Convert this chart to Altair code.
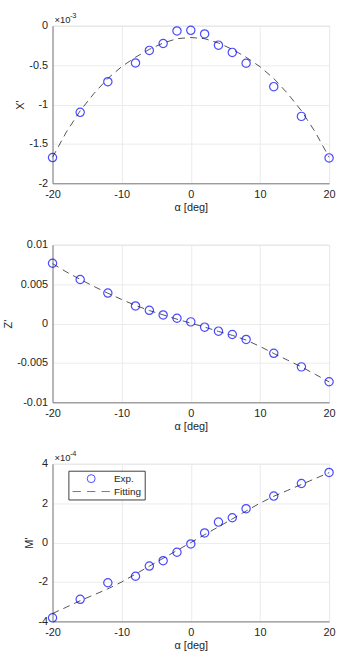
import altair as alt
import pandas as pd

# ---------------- data ----------------
alpha = [-20, -16, -12, -8, -6, -4, -2, 0, 2, 4, 6, 8, 12, 16, 20]
alpha_fit = [-20, -18, -16, -14, -12, -10, -8, -6, -4, -2, 0,
             2, 4, 6, 8, 10, 12, 14, 16, 18, 20]

# X' (x 1e-3)
x_exp = [-1.674, -1.10, -0.711, -0.473, -0.314, -0.226, -0.067, -0.059,
         -0.105, -0.247, -0.339, -0.477, -0.774, -1.151, -1.678]
x_fit = [-1.67, -1.35, -1.08, -0.86, -0.67, -0.52, -0.40, -0.30, -0.22, -0.165, -0.15,
         -0.165, -0.22, -0.30, -0.40, -0.52, -0.67, -0.86, -1.08, -1.35, -1.67]

# Z'
z_exp = [0.00765, 0.00559, 0.00387, 0.00223, 0.00168, 0.00109, 0.00067, 0.00021,
         -0.00046, -0.00097, -0.00139, -0.00202, -0.00378, -0.0055, -0.00739]
z_fit = [0.0076, 0.00655, 0.0056, 0.0047, 0.00385, 0.00305, 0.0023, 0.00165, 0.0011, 0.00055, 0.00005,
         -0.00045, -0.001, -0.0015, -0.0021, -0.0029, -0.0038, -0.00465, -0.0055, -0.00645, -0.0074]

# M' (x 1e-4)
m_exp = [-3.82, -2.88, -2.04, -1.71, -1.19, -0.92, -0.49, -0.07,
         0.49, 1.04, 1.26, 1.72, 2.36, 3.00, 3.56]
m_fit = [-3.6, -3.28, -2.95, -2.65, -2.35, -2.0, -1.6, -1.2, -0.8, -0.4, 0.0,
         0.4, 0.8, 1.2, 1.6, 2.0, 2.35, 2.65, 2.95, 3.25, 3.55]

x_ticks = [-20, -10, 0, 10, 20]
series_names = ["Exp.", "Fitting"]

FONT = "Liberation Sans"
TXT = "#262626"
BLUE = "#0000ff"
FITC = "#404040"
DASH_PATH = "M-4.7,0H-2.6M-1.05,0H1.05M2.6,0H4.7"

W, H = 279, 159
LABEL_EXPR = "toString(datum.value)"


def panel(exp_vals, fit_vals, ytitle, ydomain, yvalues, exponent=None, legend=False):
    df_exp = pd.DataFrame({"alpha": alpha, "v": exp_vals, "series": series_names[0]})
    df_fit = pd.DataFrame({"alpha": alpha_fit, "v": fit_vals, "series": series_names[1]})

    x = alt.X("alpha:Q", scale=alt.Scale(domain=[-20, 20], nice=False),
              axis=alt.Axis(values=x_ticks, title="α [deg]", labelExpr=LABEL_EXPR))
    y = alt.Y("v:Q", scale=alt.Scale(domain=ydomain, nice=False),
              axis=alt.Axis(values=yvalues, title=ytitle, labelExpr=LABEL_EXPR))

    if legend:
        leg = alt.Legend(orient="none", legendX=16, legendY=7, title=None,
                         strokeColor="#404040", fillColor="white", padding=3,
                         labelFont=FONT, labelFontSize=10, labelColor=TXT,
                         symbolSize=64, symbolStrokeWidth=1, symbolOffset=15,
                         labelOffset=18, rowPadding=2)
        cscale = alt.Scale(domain=series_names, range=[BLUE, FITC])
        sscale = alt.Scale(domain=series_names, range=["circle", DASH_PATH])
        line = alt.Chart(df_fit).mark_line(strokeDash=[7, 5], strokeWidth=0.9).encode(
            x=x, y=y, color=alt.Color("series:N", scale=cscale, legend=leg))
        points = alt.Chart(df_exp).mark_point(size=70, filled=False, strokeWidth=1.2).encode(
            x=x, y=y,
            color=alt.Color("series:N", scale=cscale, legend=leg),
            shape=alt.Shape("series:N", scale=sscale, legend=leg))
    else:
        line = alt.Chart(df_fit).mark_line(strokeDash=[7, 5], strokeWidth=0.9, color=FITC).encode(x=x, y=y)
        points = alt.Chart(df_exp).mark_point(shape="circle", size=70, filled=False,
                                              strokeWidth=1.2, color=BLUE).encode(x=x, y=y)
    layers = [line, points]
    if exponent is not None:
        base_txt = alt.Chart(pd.DataFrame({"t": ["×10"]})).mark_text(
            align="left", baseline="alphabetic", font=FONT, fontSize=9.5, color=TXT
        ).encode(x=alt.value(2), y=alt.value(-3), text="t:N")
        exp_txt = alt.Chart(pd.DataFrame({"t": [exponent]})).mark_text(
            align="left", baseline="alphabetic", font=FONT, fontSize=7.5, color=TXT
        ).encode(x=alt.value(17.5), y=alt.value(-8), text="t:N")
        layers += [base_txt, exp_txt]
    return alt.layer(*layers).properties(width=W, height=H)


p1 = panel(x_exp, x_fit, "X'", [-2, 0], [-2, -1.5, -1, -0.5, 0], exponent="-3")
p2 = panel(z_exp, z_fit, "Z'", [-0.01, 0.01], [-0.01, -0.005, 0, 0.005, 0.01])
p3 = panel(m_exp, m_fit, "M'", [-4, 4], [-4, -2, 0, 2, 4], exponent="-4", legend=True)

chart = alt.vconcat(p1, p2, p3, spacing=62, bounds="flush").resolve_legend(
    color="independent", shape="independent"
).properties(
    padding={"left": 2, "top": 8, "right": 0, "bottom": 0}
).configure_view(
    stroke="#dcdcdc", strokeWidth=1
).configure_axis(
    labelFont=FONT, labelFontSize=11, labelColor=TXT,
    titleFont=FONT, titleFontSize=11, titleColor=TXT, titleFontWeight="normal",
    domainColor="#808080", domainWidth=1,
    gridColor="#ebebeb", gridWidth=1,
    ticks=False, labelPadding=5, titlePadding=3, labelFlush=False,
).configure_axisY(
    labelBaseline="middle"
).configure_axisX(
    titlePadding=2
)

chart.save("out.html", embed_options={"renderer": "svg", "actions": False})
